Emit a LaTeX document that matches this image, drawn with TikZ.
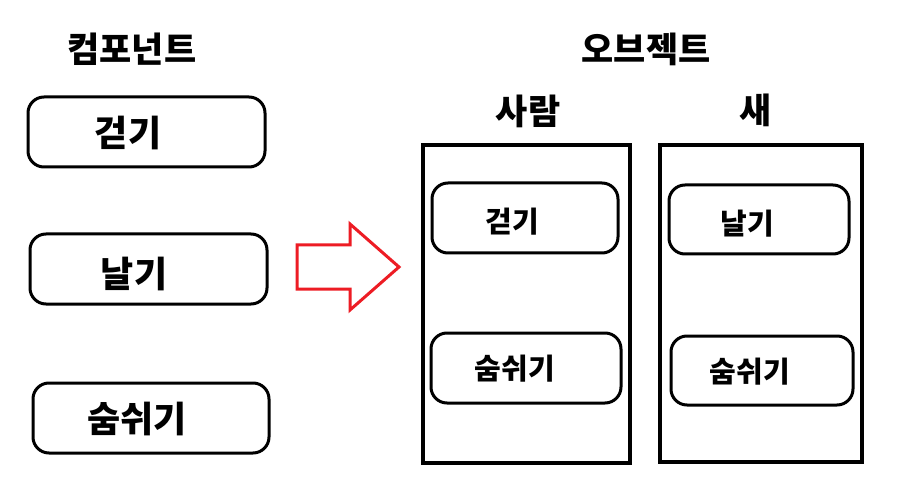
\documentclass[tikz,border=0pt]{standalone}
\usepackage{fontspec}
\newfontfamily\kr{Noto Sans CJK KR}
\definecolor{arrowred}{RGB}{237,28,36}
\begin{document}
\begin{tikzpicture}[x=1pt,y=-1pt,
  pill/.style={draw=black, line width=3pt, rounded corners=16pt, inner sep=0pt, fill=none},
  container/.style={draw=black, line width=4pt, inner sep=0pt},
  title/.style={font=\kr\bfseries\fontsize{35}{38}\selectfont, inner sep=0pt},
  bigtxt/.style={font=\kr\bfseries\fontsize{36}{40}\selectfont, inner sep=0pt},
  smalltxt/.style={font=\kr\bfseries\fontsize{29}{32}\selectfont, inner sep=0pt}]
\useasboundingbox[fill=white] (0,0) rectangle (898,484);
% left titles and components
\node[title] (tcomp) at (132,49) {컴포넌트};
\node[pill, minimum width=237pt, minimum height=70pt] (c1) at (146.5,132) {};
\node[bigtxt] (c1t) at (128,133) {걷기};
\node[pill, minimum width=237pt, minimum height=70pt] (c2) at (148.5,269) {};
\node[bigtxt] (c2t) at (134,274) {날기};
\node[pill, minimum width=236pt, minimum height=70pt] (c3) at (151,418) {};
\node[bigtxt] (c3t) at (137,419) {숨쉬기};
% arrow
\draw[arrowred, line width=3pt, line join=miter]
  (297,245) -- (350,245) -- (350,224) -- (399,267) -- (350,310) -- (350,289) -- (297,289) -- cycle;
% right side
\node[title] (tobj) at (646,49) {오브젝트};
\node[title] (tp) at (528,111) {사람};
\node[title] (tb) at (756,110) {새};
\node[container, minimum width=207pt, minimum height=318pt] (person) at (526.5,304) {};
\node[container, minimum width=202pt, minimum height=317pt] (bird) at (761,303.5) {};
\node[pill, minimum width=186pt, minimum height=70pt] (p1) at (525,218) {};
\node[smalltxt] (p1t) at (512,222) {걷기};
\node[pill, minimum width=190pt, minimum height=70pt] (p2) at (526,368) {};
\node[smalltxt] (p2t) at (515,369) {숨쉬기};
\node[pill, minimum width=180pt, minimum height=69pt] (b1) at (759,219.5) {};
\node[smalltxt] (b1t) at (747,224) {날기};
\node[pill, minimum width=182pt, minimum height=69pt] (b2) at (762,370.5) {};
\node[smalltxt] (b2t) at (750,372) {숨쉬기};
\end{tikzpicture}
\end{document}
